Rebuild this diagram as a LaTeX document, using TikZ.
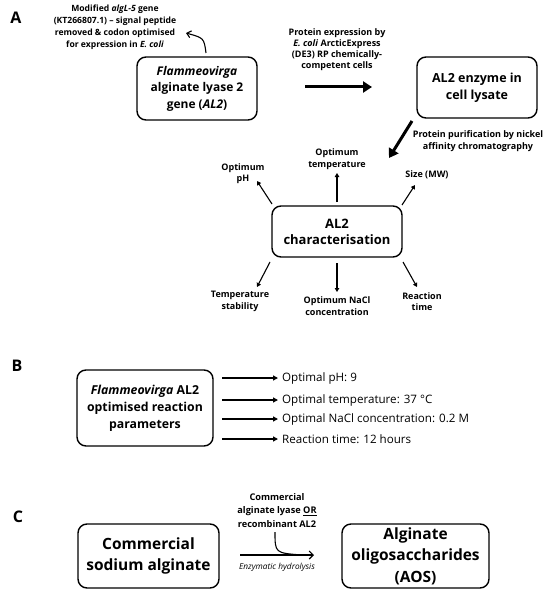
\documentclass[tikz,border=0pt]{standalone}
\usepackage{fontspec}
\setmainfont{Open Sans}
\usetikzlibrary{arrows.meta}
\begin{document}
\begin{tikzpicture}[x=1pt,y=-1pt,
  box/.style={draw,line width=1.4pt,rounded corners=9pt,align=center,inner sep=0pt},
  lbl/.style={align=center,inner sep=0pt,font=\bfseries\fontsize{9}{11.5}\selectfont},
  big/.style={-{Triangle[length=9pt,width=11pt]},line width=3pt},
  small/.style={-{Triangle[length=4pt,width=4.5pt]},line width=1.1pt},
  barrow/.style={-{Triangle[length=5pt,width=5pt]},line width=1.4pt,shorten >=4pt},
  panel/.style={font=\bfseries\fontsize{16}{16}\selectfont,inner sep=0pt},
  res/.style={anchor=west,inner sep=0pt,font=\fontsize{11.6}{13}\selectfont}]
\useasboundingbox (0,0) rectangle (550,596);

% ---------- Panel A ----------
\node[panel] (pA) at (16,18) {A};
\node[lbl,font=\bfseries\fontsize{8.6}{12}\selectfont] (mod) at (115,27.5) {Modified \textit{algL-5} gene\\(KT266807.1) -- signal peptide\\removed \& codon optimised\\for expression in \textit{E. coli}};
\node[box,minimum width=120pt,minimum height=63pt,font=\bfseries\fontsize{12}{16.5}\selectfont] (gene) at (197,88.5) {\textit{Flammeovirga}\\alginate lyase 2\\gene (\textit{AL2})};
\coordinate (g1) at (206,53);
\coordinate (g2) at (186,33);
\draw[line width=1.1pt,-{Straight Barb[length=4pt,width=7pt]}] (g1) .. controls (204,38) .. (g2);

\node[lbl,font=\bfseries\fontsize{9}{11}\selectfont] (expr) at (337,49.5) {Protein expression by\\\textit{E. coli} ArcticExpress\\(DE3) RP chemically-\\competent cells};
\coordinate (e1) at (305,87);
\coordinate (e2) at (372,87);
\draw[big] (e1) -- (e2);
\node[box,minimum width=120pt,minimum height=61pt,font=\bfseries\fontsize{12.5}{17}\selectfont] (lys) at (477,87.5) {AL2 enzyme in\\cell lysate};

\coordinate (p1) at (412,121);
\coordinate (p2) at (389,158);
\draw[big] (p1) -- (p2);
\node[lbl] (puri) at (478,141) {Protein purification by nickel\\affinity chromatography};

\node[box,minimum width=130pt,minimum height=51pt,font=\bfseries\fontsize{13}{16}\selectfont] (char) at (337,231.5) {AL2\\characterisation};

\node[lbl] (opt) at (337,159) {Optimum\\temperature};
\node[lbl] (oph) at (243,173.5) {Optimum\\pH};
\node[lbl] (size) at (427,175) {Size (MW)};
\node[lbl] (tst) at (240,301.5) {Temperature\\stability};
\node[lbl] (nacl) at (337,306) {Optimum NaCl\\concentration};
\node[lbl] (rt) at (422,301.5) {Reaction\\time};

\coordinate (a1s) at (337,202); \coordinate (a1e) at (337,173);
\coordinate (a2s) at (272,204); \coordinate (a2e) at (257,181);
\coordinate (a3s) at (402,205); \coordinate (a3e) at (415,185);
\coordinate (a4s) at (270,262); \coordinate (a4e) at (257,287);
\coordinate (a5s) at (337,263); \coordinate (a5e) at (337,292);
\coordinate (a6s) at (403,262); \coordinate (a6e) at (417,287);
\draw[small] (a1s) -- (a1e);
\draw[small] (a2s) -- (a2e);
\draw[small] (a3s) -- (a3e);
\draw[small] (a4s) -- (a4e);
\draw[small] (a5s) -- (a5e);
\draw[small] (a6s) -- (a6e);

% ---------- Panel B ----------
\node[panel] (pB) at (17,366) {B};
\node[box,minimum width=136pt,minimum height=76pt,font=\bfseries\fontsize{12.3}{17}\selectfont] (par) at (145,408) {\textit{Flammeovirga} AL2\\optimised reaction\\parameters};
\foreach \yy/\nm/\tx in {378/r1/{Optimal pH: 9},400/r2/{Optimal temperature: 37 °C},419/r3/{Optimal NaCl concentration: 0.2 M},439/r4/{Reaction time: 12 hours}}{
  \coordinate (\nm s) at (222,\yy);
  \node[res] (\nm) at (282,\yy) {\tx};
  \draw[barrow] (\nm s) -- (\nm.west);
}

% ---------- Panel C ----------
\node[panel] (pC) at (18,517) {C};
\node[box,minimum width=141pt,minimum height=64pt,font=\bfseries\fontsize{15.5}{21}\selectfont] (sod) at (148.5,556) {Commercial\\sodium alginate};
\node[box,minimum width=147pt,minimum height=64pt,font=\bfseries\fontsize{15.5}{21.5}\selectfont] (aos) at (415.5,556) {Alginate\\oligosaccharides\\(AOS)};
\coordinate (h1) at (240,555);
\coordinate (h2) at (314,555);
\draw[line width=1.1pt,-{Straight Barb[length=4pt,width=8pt]}] (h1) -- (h2);
\coordinate (k1) at (275,532);
\coordinate (k2) at (302,555);
\draw[line width=1.1pt] (k1) .. controls (275,553) .. (k2);
\node[lbl,font=\bfseries\fontsize{9.2}{13.5}\selectfont] (enz) at (277,510.5) {Commercial\\alginate lyase \underline{OR}\\recombinant AL2};
\node[inner sep=0pt,font=\itshape\fontsize{8.3}{9}\selectfont] (hyd) at (277,567) {Enzymatic hydrolysis};
\end{tikzpicture}
\end{document}
